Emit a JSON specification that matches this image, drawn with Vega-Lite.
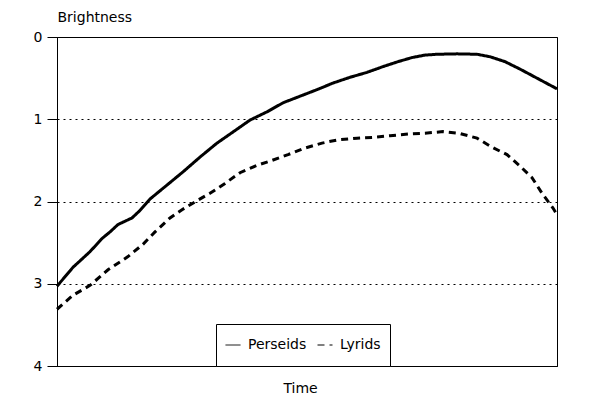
{
  "$schema": "https://vega.github.io/schema/vega-lite/v6.json",
  "width": 500,
  "height": 329,
  "autosize": {"type": "none"},
  "padding": {"left": 57, "top": 37, "right": 43, "bottom": 34},
  "background": "white",
  "config": {
    "view": {"stroke": "black", "strokeWidth": 1},
    "font": "DejaVu Sans"
  },
  "data": {
    "values": [
      {"t": 0, "b": 3.03, "series": "Perseids"},
      {"t": 3.2, "b": 2.8, "series": "Perseids"},
      {"t": 6.6, "b": 2.61, "series": "Perseids"},
      {"t": 9, "b": 2.45, "series": "Perseids"},
      {"t": 10.6, "b": 2.37, "series": "Perseids"},
      {"t": 12.2, "b": 2.28, "series": "Perseids"},
      {"t": 13.6, "b": 2.24, "series": "Perseids"},
      {"t": 15, "b": 2.2, "series": "Perseids"},
      {"t": 16.4, "b": 2.12, "series": "Perseids"},
      {"t": 18.6, "b": 1.97, "series": "Perseids"},
      {"t": 22, "b": 1.8, "series": "Perseids"},
      {"t": 25.2, "b": 1.64, "series": "Perseids"},
      {"t": 28.6, "b": 1.46, "series": "Perseids"},
      {"t": 32, "b": 1.29, "series": "Perseids"},
      {"t": 35.2, "b": 1.155, "series": "Perseids"},
      {"t": 38.6, "b": 1.01, "series": "Perseids"},
      {"t": 42, "b": 0.91, "series": "Perseids"},
      {"t": 45.2, "b": 0.8, "series": "Perseids"},
      {"t": 48.6, "b": 0.72, "series": "Perseids"},
      {"t": 52, "b": 0.64, "series": "Perseids"},
      {"t": 55.2, "b": 0.56, "series": "Perseids"},
      {"t": 58.6, "b": 0.49, "series": "Perseids"},
      {"t": 62, "b": 0.43, "series": "Perseids"},
      {"t": 65.2, "b": 0.36, "series": "Perseids"},
      {"t": 68.2, "b": 0.3, "series": "Perseids"},
      {"t": 71, "b": 0.25, "series": "Perseids"},
      {"t": 73.6, "b": 0.22, "series": "Perseids"},
      {"t": 76, "b": 0.21, "series": "Perseids"},
      {"t": 80, "b": 0.205, "series": "Perseids"},
      {"t": 84, "b": 0.21, "series": "Perseids"},
      {"t": 86.6, "b": 0.24, "series": "Perseids"},
      {"t": 89.6, "b": 0.3, "series": "Perseids"},
      {"t": 92.6, "b": 0.39, "series": "Perseids"},
      {"t": 96.6, "b": 0.52, "series": "Perseids"},
      {"t": 100, "b": 0.63, "series": "Perseids"},
      {"t": 0, "b": 3.31, "series": "Lyrids"},
      {"t": 3.2, "b": 3.14, "series": "Lyrids"},
      {"t": 6.6, "b": 3.02, "series": "Lyrids"},
      {"t": 10.2, "b": 2.83, "series": "Lyrids"},
      {"t": 14.2, "b": 2.67, "series": "Lyrids"},
      {"t": 17.2, "b": 2.52, "series": "Lyrids"},
      {"t": 19.6, "b": 2.37, "series": "Lyrids"},
      {"t": 22.6, "b": 2.2, "series": "Lyrids"},
      {"t": 25, "b": 2.1, "series": "Lyrids"},
      {"t": 28, "b": 1.99, "series": "Lyrids"},
      {"t": 30.6, "b": 1.9, "series": "Lyrids"},
      {"t": 33.6, "b": 1.78, "series": "Lyrids"},
      {"t": 36.6, "b": 1.65, "series": "Lyrids"},
      {"t": 40, "b": 1.56, "series": "Lyrids"},
      {"t": 43, "b": 1.5, "series": "Lyrids"},
      {"t": 46.2, "b": 1.43, "series": "Lyrids"},
      {"t": 49.6, "b": 1.35, "series": "Lyrids"},
      {"t": 53, "b": 1.29, "series": "Lyrids"},
      {"t": 56.2, "b": 1.25, "series": "Lyrids"},
      {"t": 60, "b": 1.23, "series": "Lyrids"},
      {"t": 63.2, "b": 1.22, "series": "Lyrids"},
      {"t": 66.6, "b": 1.2, "series": "Lyrids"},
      {"t": 70.2, "b": 1.18, "series": "Lyrids"},
      {"t": 73.6, "b": 1.17, "series": "Lyrids"},
      {"t": 77.2, "b": 1.15, "series": "Lyrids"},
      {"t": 80.4, "b": 1.17, "series": "Lyrids"},
      {"t": 84, "b": 1.23, "series": "Lyrids"},
      {"t": 87, "b": 1.34, "series": "Lyrids"},
      {"t": 90, "b": 1.43, "series": "Lyrids"},
      {"t": 92.6, "b": 1.57, "series": "Lyrids"},
      {"t": 95, "b": 1.71, "series": "Lyrids"},
      {"t": 97, "b": 1.9, "series": "Lyrids"},
      {"t": 99.2, "b": 2.08, "series": "Lyrids"},
      {"t": 100, "b": 2.16, "series": "Lyrids"}
    ]
  },
  "mark": {"type": "line", "color": "black", "strokeWidth": 3},
  "encoding": {
    "x": {
      "field": "t",
      "type": "quantitative",
      "scale": {"domain": [0, 100], "nice": false, "zero": false},
      "axis": {
        "title": "Time",
        "grid": false,
        "ticks": false,
        "labels": false,
        "domainColor": "black",
        "titleFont": "DejaVu Sans",
        "titleFontSize": 14,
        "titleFontWeight": "normal",
        "titleColor": "black",
        "titleAnchor": "start",
        "titleAlign": "center",
        "titleBaseline": "alphabetic",
        "titleX": 243,
        "titleY": 26
      }
    },
    "y": {
      "field": "b",
      "type": "quantitative",
      "scale": {"domain": [0, 4], "reverse": true, "nice": false, "zero": false},
      "axis": {
        "title": "Brightness",
        "values": [0, 1, 2, 3, 4],
        "format": "d",
        "grid": true,
        "gridColor": "black",
        "gridDash": [2, 4],
        "gridWidth": 1,
        "gridOpacity": 1,
        "tickColor": "black",
        "tickSize": 10,
        "tickWidth": 1,
        "domainColor": "black",
        "labelColor": "black",
        "labelFont": "DejaVu Sans",
        "labelFontSize": 14,
        "labelPadding": 5,
        "titleFont": "DejaVu Sans",
        "titleFontSize": 14,
        "titleFontWeight": "normal",
        "titleColor": "black",
        "titleAngle": 0,
        "titleAlign": "left",
        "titleBaseline": "alphabetic",
        "titleAnchor": "start",
        "titleX": 0,
        "titleY": -16
      }
    },
    "strokeDash": {
      "field": "series",
      "type": "nominal",
      "scale": {"domain": ["Perseids", "Lyrids"], "range": [[1, 0], [7, 5]]},
      "legend": {
        "title": null,
        "orient": "none",
        "direction": "horizontal",
        "legendX": 159,
        "legendY": 287,
        "strokeColor": "black",
        "fillColor": "white",
        "padding": 9,
        "clipHeight": 24,
        "symbolType": "stroke",
        "symbolSize": 225,
        "symbolStrokeWidth": 1,
        "symbolStrokeColor": "black",
        "labelFont": "DejaVu Sans",
        "labelFontSize": 14,
        "labelColor": "black",
        "labelOffset": 7,
        "columnPadding": 10
      }
    }
  }
}
